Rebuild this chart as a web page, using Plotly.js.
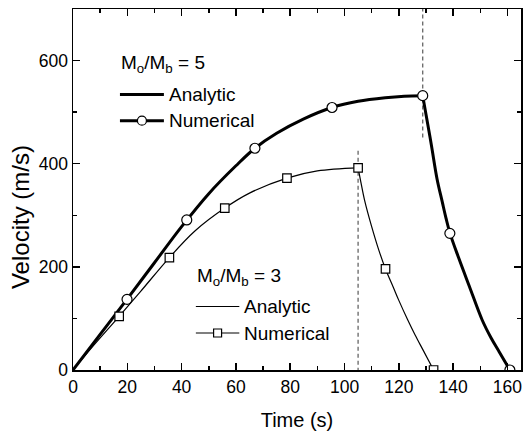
<!DOCTYPE html>
<html>
<head>
<meta charset="utf-8">
<script src="https://cdn.plot.ly/plotly-3.0.1.min.js"></script>
<style>html,body{margin:0;padding:0;background:#fff;}#chart{width:524px;height:434px;}</style>
</head>
<body>
<div id="chart"></div>
<script>
// ---- Data ----
// Mo/Mb = 5
const t5Up   = [0,10,20,30,40,50,60,67,75,85,95.4,105,115,122,128.8];
const v5Up   = [0,69,138,208,278,342,396,430,459,487,509,521,528,531,532];
const t5Down = [128.8,130,132,134.1,136,137.4,138.8,142,146,150.7,154,157,160.9];
const v5Down = [532,496,436,370,326,294,266,218,162,97,62,35,0];
const t5Num  = [19.9,41.9,67.0,95.4,128.8,138.8,160.9];
const v5Num  = [137,291,430,509,532,265,0];
// Mo/Mb = 3
const t3Up   = [0,8,17,25,35.5,45,55.9,65,78.8,90,105];
const v3Up   = [0,50,104,153,218,270,314,343,372,386,392];
const t3Down = [105,106,107.4,110,112.6,115.1,118,120,123.3,126,129,132.8];
const v3Down = [392,365,329,278,233,196,160,135,97,68,38,0];
const t3Num  = [17.0,35.5,55.9,78.8,105.0,115.1,132.8];
const v3Num  = [104,218,314,372,392,196,0];
// burnout marker lines (dashed)
const tBurn5 = [128.8,128.8], vBurn5 = [451,700];
const tBurn3 = [105,105],     vBurn3 = [425,0];
// labels
const xTitle = 'Time (s)';
const yTitle = 'Velocity (m/s)';
const legTitle5 = 'M<sub>o</sub>/M<sub>b</sub> = 5';
const legTitle3 = 'M<sub>o</sub>/M<sub>b</sub> = 3';
const nameA = 'Analytic', nameN = 'Numerical';

const FONT = 'Liberation Sans, Arial, sans-serif';
const thick = {color:'#000', width:3};
const thin  = {color:'#000', width:1.2};
const circ  = {symbol:'circle', size:10, color:'#fff', line:{color:'#000', width:1.2}};
const sq    = {symbol:'square', size:8.5, color:'#fff', line:{color:'#000', width:1.2}};
const dash  = {color:'#666', width:1.3, dash:'4px,3px'};

const traces = [
  {x:tBurn5, y:vBurn5, mode:'lines', line:dash, hoverinfo:'skip'},
  {x:tBurn3, y:vBurn3, mode:'lines', line:dash, hoverinfo:'skip'},
  {x:t5Up, y:v5Up, mode:'lines', line:Object.assign({shape:'spline'},thick), name:nameA},
  {x:t5Down, y:v5Down, mode:'lines', line:Object.assign({shape:'spline'},thick)},
  {x:t5Num, y:v5Num, mode:'markers', marker:circ, name:nameN},
  {x:t3Up, y:v3Up, mode:'lines', line:Object.assign({shape:'spline'},thin), name:nameA},
  {x:t3Down, y:v3Down, mode:'lines', line:Object.assign({shape:'spline'},thin)},
  {x:t3Num, y:v3Num, mode:'markers', marker:sq, name:nameN}
];

// ---- layout geometry (pixels) ----
const M = {l:73, r:2.5, t:9, b:64}, W = 524, H = 434;
const PL = M.l, PR = W - M.r, PT = M.t, PB = H - M.b;
const px = x => (x - PL) / (PR - PL);
const py = y => (PB - y) / (PB - PT);

// custom legend blocks
function legendBlock(x0, x1, yT, y1, y2, title, lineW, sym, symSize) {
  const shapes = [], ann = [];
  const opt = {family:FONT, size:19, color:'#000'};
  const base = {xref:'paper', yref:'paper', xanchor:'left', yanchor:'middle', align:'left', showarrow:false, borderpad:0, font:opt};
  ann.push(Object.assign({text:title, x:px(x0), y:py(yT)}, base));
  ann.push(Object.assign({text:nameA, x:px(x1+4), y:py(y1)}, base));
  ann.push(Object.assign({text:nameN, x:px(x1+4), y:py(y2)}, base));
  shapes.push({type:'line', xref:'paper', yref:'paper', x0:px(x0), x1:px(x1), y0:py(y1), y1:py(y1), line:{color:'#000', width:lineW}, layer:'above'});
  shapes.push({type:'line', xref:'paper', yref:'paper', x0:px(x0), x1:px(x1), y0:py(y2), y1:py(y2), line:{color:'#000', width:lineW}, layer:'above'});
  const cx = (x0 + x1) / 2, r = symSize / 2;
  shapes.push({type:sym, xref:'paper', yref:'paper', x0:px(cx-r), x1:px(cx+r), y0:py(y2+r), y1:py(y2-r), fillcolor:'#fff', line:{color:'#000', width:1.2}, layer:'above'});
  return {shapes, ann};
}
const L5 = legendBlock(120, 164, 64, 94.5, 120.7, legTitle5, 3, 'circle', 9);
const L3 = legendBlock(196, 239.5, 277, 306.5, 333, legTitle3, 1.2, 'rect', 8);

const axisCommon = {
  ticks:'inside', ticklen:7, tickwidth:1.5, tickcolor:'#000',
  showline:true, linewidth:1.5, linecolor:'#000', mirror:'ticks',
  showgrid:false, zeroline:false,
  tickfont:{family:FONT, size:17.5, color:'#000'}
};

const layout = {
  width:W, height:H, margin:M,
  paper_bgcolor:'#fff', plot_bgcolor:'#fff',
  font:{family:FONT, color:'#000'},
  showlegend:false,
  xaxis:Object.assign({}, axisCommon, {
    range:[0,165], tick0:0, dtick:20,
    minor:{dtick:10, ticks:'inside', ticklen:4, tickwidth:1.5, tickcolor:'#000'},
    title:{text:xTitle, font:{family:FONT, size:20, color:'#000'}, standoff:17}
  }),
  yaxis:Object.assign({}, axisCommon, {
    range:[0,700], tick0:0, dtick:200,
    minor:{dtick:100, ticks:'inside', ticklen:4, tickwidth:1.5, tickcolor:'#000'}
  }),
  annotations:[
    {text:yTitle, textangle:-90, x:px(20), y:py(217), xref:'paper', yref:'paper', xanchor:'center', yanchor:'middle', showarrow:false, font:{family:FONT, size:24, color:'#000'}}
  ].concat(L5.ann, L3.ann),
  shapes:[].concat(L5.shapes, L3.shapes)
};

Plotly.newPlot('chart', traces, layout, {displayModeBar:false, staticPlot:true});
</script>
</body>
</html>
